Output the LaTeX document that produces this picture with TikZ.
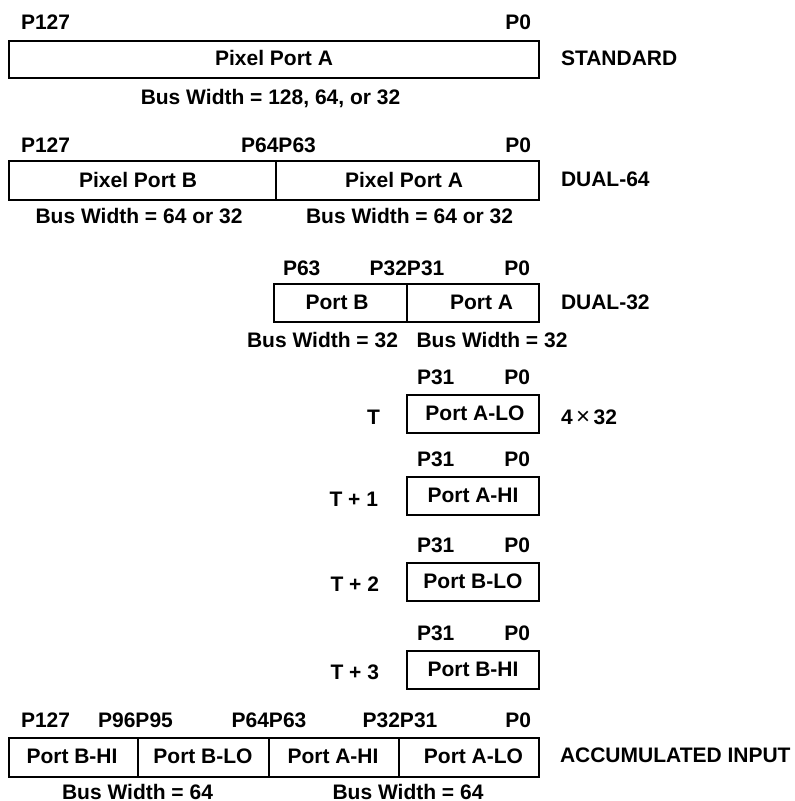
\documentclass[tikz,border=0pt]{standalone}
\usepackage{fontspec}
\setmainfont{Liberation Sans}
\usepackage{tikz}

\begin{document}
\begin{tikzpicture}[x=0.5bp, y=-0.5bp, line width=1bp,
  lbl/.style={inner sep=0pt, font=\fontsize{10.5bp}{12bp}\selectfont\bfseries}]
\useasboundingbox (0,0) rectangle (795,801);
% standard
\coordinate (S1) at (9,41);
\coordinate (S2) at (539,78);
\draw (S1) rectangle (S2);
\node[lbl, anchor=base west] (s127) at (20,29) {P127};
\node[lbl, anchor=base east] (s0) at (532,29) {P0};
\node[lbl, anchor=base] (spa) at (274,65.5) {Pixel Port A};
\node[lbl, anchor=base west] (std) at (560,65.5) {STANDARD};
\node[lbl, anchor=base] (sbw) at (270.5,104) {Bus Width = 128, 64, or 32};
% dual-64
\coordinate (D1) at (9,161);
\coordinate (D2) at (539,200);
\draw (D1) rectangle (D2);
\draw (276,161) -- (276,200);
\node[lbl, anchor=base west] (d127) at (20,152) {P127};
\node[lbl, anchor=base] (d64) at (278.5,152) {P64P63};
\node[lbl, anchor=base east] (d0) at (532,152) {P0};
\node[lbl, anchor=base] (dpb) at (138,187) {Pixel Port B};
\node[lbl, anchor=base] (dpa) at (404,187) {Pixel Port A};
\node[lbl, anchor=base west] (dual64) at (560,186.5) {DUAL-64};
\node[lbl, anchor=base] (dbwb) at (139,223) {Bus Width = 64 or 32};
\node[lbl, anchor=base] (dbwa) at (409.5,223) {Bus Width = 64 or 32};
% dual-32
\coordinate (E1) at (274,284);
\coordinate (E2) at (539,322);
\draw (E1) rectangle (E2);
\draw (407,284) -- (407,322);
\node[lbl, anchor=base west] (e63) at (282,275) {P63};
\node[lbl, anchor=base] (e32) at (407,275) {P32P31};
\node[lbl, anchor=base east] (e0) at (531,275) {P0};
\node[lbl, anchor=base] (epb) at (337,309) {Port B};
\node[lbl, anchor=base] (epa) at (481.5,309) {Port A};
\node[lbl, anchor=base west] (dual32) at (560,309) {DUAL-32};
\node[lbl, anchor=base] (ebwb) at (322.5,347) {Bus Width = 32};
\node[lbl, anchor=base] (ebwa) at (492,347) {Bus Width = 32};
% 4 x 32
\draw (407,395) rectangle (539,433);
\node[lbl, anchor=base west] (t31) at (416,384) {P31};
\node[lbl, anchor=base east] (t0) at (531,384) {P0};
\node[lbl, anchor=base east] (t) at (381,424) {T};
\node[lbl, anchor=base] (tal) at (475,420) {Port A-LO};
\node[lbl, anchor=base west] (four) at (560,424) {4\,{\mdseries\fontsize{12bp}{12bp}\selectfont ×}\,32};
\draw (407,477) rectangle (539,515);
\node[lbl, anchor=base west] (u31) at (416,466) {P31};
\node[lbl, anchor=base east] (u0) at (531,466) {P0};
\node[lbl, anchor=base east] (u) at (379,506) {T + 1};
\node[lbl, anchor=base] (uah) at (473,502) {Port A-HI};
\draw (407,563) rectangle (539,601);
\node[lbl, anchor=base west] (v31) at (416,552) {P31};
\node[lbl, anchor=base east] (v0) at (531,552) {P0};
\node[lbl, anchor=base east] (v) at (380,591) {T + 2};
\node[lbl, anchor=base] (vbl) at (473,588) {Port B-LO};
\draw (407,651) rectangle (539,689);
\node[lbl, anchor=base west] (w31) at (416,640) {P31};
\node[lbl, anchor=base east] (w0) at (531,640) {P0};
\node[lbl, anchor=base east] (w) at (380,679) {T + 3};
\node[lbl, anchor=base] (wbh) at (473,676) {Port B-HI};
% accumulated input
\coordinate (A1) at (9,738);
\coordinate (A2) at (539,777);
\draw (A1) rectangle (A2);
\draw (138,738) -- (138,777);
\draw (269,738) -- (269,777);
\draw (399,738) -- (399,777);
\node[lbl, anchor=base west] (a127) at (20,727) {P127};
\node[lbl, anchor=base] (a96) at (135.5,727) {P96P95};
\node[lbl, anchor=base] (a64) at (269,727) {P64P63};
\node[lbl, anchor=base] (a32) at (400,727) {P32P31};
\node[lbl, anchor=base east] (a0) at (532,727) {P0};
\node[lbl, anchor=base] (abh) at (72,763) {Port B-HI};
\node[lbl, anchor=base] (abl) at (203,763) {Port B-LO};
\node[lbl, anchor=base] (aah) at (333,763) {Port A-HI};
\node[lbl, anchor=base] (aal) at (473.5,763) {Port A-LO};
\node[lbl, anchor=base west] (acc) at (559,762) {ACCUMULATED INPUT};
\node[lbl, anchor=base] (abwb) at (137.5,799) {Bus Width = 64};
\node[lbl, anchor=base] (abwa) at (408,799) {Bus Width = 64};
\end{tikzpicture}
\end{document}
